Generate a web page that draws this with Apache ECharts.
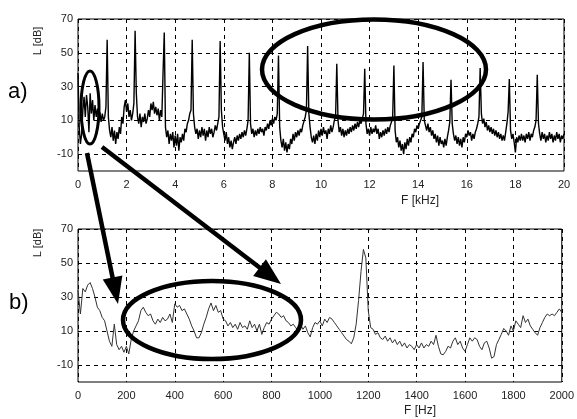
<!DOCTYPE html>
<html>
<head>
<meta charset="utf-8">
<script src="https://cdn.jsdelivr.net/npm/echarts@6/dist/echarts.min.js"></script>
<style>
html,body{margin:0;padding:0;background:#fff;}
#c{width:577px;height:419px;}
</style>
</head>
<body>
<div id="c"></div>
<script>
// ---- Data ----
// a) full spectrum, 0..20 kHz, one value every 0.05 kHz
var topStartKHz = 0;
var topStepKHz = 0.05;
var topLevels = [
 38, 6, -4, 2, 16, 24, 12, 25, 18, 3, 26, 14, 22, 10, 19, 12, 17, 11, 15, 9,
 14, 10, 12, 18, 57.7, 12, 4, 0, 6, -2, 4, -4, 3, -1, 6, 2, 12, 8, 18, 22,
 15, 20, 12, 16, 10, 14, 20, 63, 26, 12, 8, 14, 6, 12, 9, 14, 8, 11, 16, 12,
 20, 16, 21, 14, 18, 13, 17, 10, 16, 12, 38, 62, 6, 0, 4, -4, 2, -2, 3, -6,
 1, -5, 2, -8, 0, -3, 2, -2, 5, 3, 8, 10, 14, 16, 57.7, 14, 6, 2, 5, -1,
 4, 0, 6, 1, 5, -2, 4, 0, 6, 2, 5, 0, 3, 7, 4, 8, 12, 57, 16, 6,
 2, -2, 3, -4, 0, -6, -2, -7, -3, 0, -4, 1, -2, 2, -1, 3, 0, 4, 1, 5,
 10, 50, 8, 2, 5, 0, 4, 1, 5, 2, 6, 3, 5, 1, 6, 4, 8, 5, 10, 7,
 11, 8, 12, 10, 14, 48.4, 6, -2, -6, -1, -8, -3, -9, -4, -7, -1, -4, 2, -2, 3,
 0, 4, 1, 5, 3, 7, 6, 12, 16, 54, 14, 6, 0, -3, 1, -4, 2, -2, 4, 0,
 5, 1, 6, 2, 4, -1, 5, 2, 7, 3, 6, 10, 12, 43.5, 10, 3, 6, 1, 5, 0,
 4, 1, 5, 2, 6, 3, 7, 4, 8, 5, 9, 6, 10, 8, 11, 14, 40.5, 8, 2, 5,
 1, 6, 2, 5, 3, 7, 2, 5, -1, 3, 0, 4, 1, 5, 2, 6, 3, 7, 9, 12,
 42.5, 4, -3, 0, -6, -2, -8, -4, -10, -3, -7, -1, -5, 0, -3, 2, 0, 5, 3, 7,
 5, 8, 9, 12, 44.5, 10, 9, 4, 8, 3, 6, 1, 4, -1, 2, -3, 1, -5, 0, -4,
 -2, -6, -1, -5, 0, 4, 9, 34, 8, 2, -2, 1, -4, 0, -5, -1, -6, 0, -3, 2,
 0, 4, 1, 3, -2, 2, -1, 3, 5, 8, 12, 41, 14, 8, 11, 6, 9, 4, 7, 3,
 6, 2, 5, 1, 4, 0, 3, -1, 2, -2, 1, -2, 3, 8, 15, 34.5, 4, -1, 2, -3,
 -9, 0, -3, 1, -2, 2, -2, 1, -3, 2, -1, 3, -2, 2, 0, 4, 6, 10, 37, 8,
 2, -2, 3, -1, 2, -3, 1, -2, 3, -1, 2, -3, 1, -2, 3, -1, 2, -3, 1, -1, 2
];
// b) zoomed spectrum, 0..2000 Hz, one value every 10 Hz
var botStartHz = 0;
var botStepHz = 10;
var botLevels = [
 34, 20, 35, 33, 37, 38.5, 35, 30, 24, 22, 18, 16, 10, 4, 1, 14, 2, -1, 1, -2.5,
 1, -3.5, 5, 10, 13, 16, 22, 24, 21, 19, 20, 16, 14, 17, 15, 18, 16, 17, 20, 15,
 26, 24, 25, 22, 23, 20, 17, 13, 10, 6, 6, 9, 14, 18, 23, 26.5, 22, 25, 21, 22,
 17, 16, 13, 15, 12, 14, 11, 15, 12, 13, 11, 16, 12, 14, 10, 14, 8, 12, 15, 14,
 17, 19, 21, 20, 18, 19, 16, 15, 13, 14, 12, 10, 14, 11, 13, 9, 6.5, 12, 15, 14,
 16, 13, 17, 15, 18, 17, 15, 13, 11, 9, 7, 5, 4, 2.5, 6, 14, 28, 45, 58, 53,
 22, 12, 11, 8, 9, 6, 5, 7, 4, 6, 3, 5, 2, 4, 1, 3, 0, 2, 1, -1,
 2, 0, 3, 0, 2, 1, 4, 2, 7.5, 1, -3.5, -4, -2, 1, 0, 4, 6, 2, 4, 0,
 -2, 2, 6, 4, 6, 5, 1, -1, 3, 4, 0, -6, -5, 2, 5, 8, 11.5, 10, 7.5, 13,
 10, 16, 14, 12, 19, 15, 17, 13, 11, 9, 7.5, 12, 15, 18, 20, 19, 20, 19, 21, 23,
 21
];
var yTickValues = [-10, 10, 30, 50, 70];
var topXTicks = {min: 0, max: 20, interval: 2};
var botXTicks = {min: 0, max: 2000, interval: 200};

var topData = topLevels.map(function (v, i) { return [topStartKHz + i * topStepKHz, v]; });
var botData = botLevels.map(function (v, i) { return [botStartHz + i * botStepHz, v]; });

var FONT = '"Liberation Sans", Arial, sans-serif';
var labelStyle = {color: '#222', fontSize: 11, fontFamily: FONT};
var dashed = {show: true, lineStyle: {color: '#000', type: [4, 4], width: 1}};
function plain(v) { return String(v); }

function xAxisDef(gi, t) {
  return {
    type: 'value', gridIndex: gi, min: t.min, max: t.max, interval: t.interval,
    axisLine: {show: false}, axisTick: {show: false},
    axisLabel: Object.assign({margin: 8, formatter: plain}, labelStyle),
    splitLine: dashed
  };
}
function yAxisDef(gi) {
  return {
    type: 'value', gridIndex: gi, min: -20, max: 70,
    axisLine: {show: false},
    axisTick: {show: false, customValues: yTickValues},
    axisLabel: Object.assign({margin: 5, customValues: yTickValues, formatter: plain}, labelStyle),
    splitLine: dashed
  };
}

function arrow(x1, y1, x2, y2, hl, hw, lw) {
  var dx = x2 - x1, dy = y2 - y1, L = Math.sqrt(dx * dx + dy * dy);
  var ux = dx / L, uy = dy / L, px = -uy, py = ux;
  var bx = x2 - ux * hl, by = y2 - uy * hl;
  return [
    {type: 'line', shape: {x1: x1, y1: y1, x2: bx + ux * 2, y2: by + uy * 2}, style: {stroke: '#000', lineWidth: lw}, z: 100},
    {type: 'polygon', shape: {points: [[x2, y2], [bx + px * hw / 2, by + py * hw / 2], [bx - px * hw / 2, by - py * hw / 2]]}, style: {fill: '#000'}, z: 100}
  ];
}

var graphics = [
  {type: 'text', left: 8, top: 81, style: {text: 'a)', font: '22px ' + FONT, fill: '#000'}},
  {type: 'text', left: 9, top: 292, style: {text: 'b)', font: '22px ' + FONT, fill: '#000'}},
  {type: 'text', x: 38, y: 41, rotation: Math.PI / 2, style: {text: 'L [dB]', font: '11px ' + FONT, fill: '#222', align: 'center', verticalAlign: 'middle'}},
  {type: 'text', x: 38, y: 243, rotation: Math.PI / 2, style: {text: 'L [dB]', font: '11px ' + FONT, fill: '#222', align: 'center', verticalAlign: 'middle'}},
  {type: 'text', x: 420, y: 201, style: {text: 'F [kHz]', font: '12px ' + FONT, fill: '#222', align: 'center', verticalAlign: 'middle'}},
  {type: 'text', x: 420, y: 411, style: {text: 'F [Hz]', font: '12px ' + FONT, fill: '#222', align: 'center', verticalAlign: 'middle'}},
  {type: 'ellipse', shape: {cx: 90, cy: 107.5, rx: 9, ry: 36.5}, style: {fill: 'none', stroke: '#000', lineWidth: 3}, z: 100},
  {type: 'ellipse', shape: {cx: 374, cy: 69.5, rx: 112, ry: 50}, style: {fill: 'none', stroke: '#000', lineWidth: 4.5}, z: 100},
  {type: 'ellipse', shape: {cx: 212, cy: 320, rx: 89, ry: 39}, style: {fill: 'none', stroke: '#000', lineWidth: 4.5}, z: 100}
].concat(arrow(87, 153, 118, 304, 27, 20, 4.5)).concat(arrow(102, 147, 281, 284, 27, 21, 4.5));

var chart = echarts.init(document.getElementById('c'), null, {renderer: 'canvas'});
chart.setOption({
  animation: false,
  backgroundColor: '#fff',
  grid: [
    {left: 78, right: 13, top: 19, height: 152, show: true, borderColor: '#000', borderWidth: 1},
    {left: 78, right: 13, top: 229, height: 153, show: true, borderColor: '#000', borderWidth: 1}
  ],
  xAxis: [xAxisDef(0, topXTicks), xAxisDef(1, botXTicks)],
  yAxis: [yAxisDef(0), yAxisDef(1)],
  series: [
    {type: 'line', xAxisIndex: 0, yAxisIndex: 0, data: topData, showSymbol: false, sampling: null,
      lineStyle: {color: '#000', width: 1.4}, z: 5},
    {type: 'line', xAxisIndex: 1, yAxisIndex: 1, data: botData, showSymbol: false,
      lineStyle: {color: '#333', width: 1}, z: 5}
  ],
  graphic: graphics
});
</script>
</body>
</html>
